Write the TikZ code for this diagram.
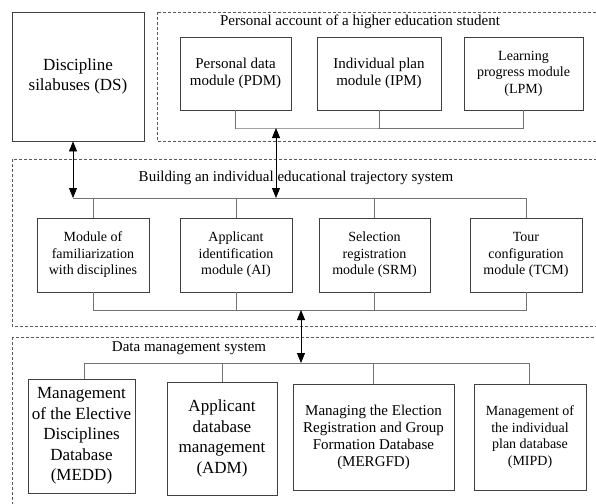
\documentclass[tikz,border=0pt]{standalone}
\usepackage{fontspec}
\setmainfont{Liberation Serif}
\usetikzlibrary{arrows.meta}
\begin{document}
\begin{tikzpicture}[x=1pt,y=-1pt,
 box/.style={draw=black!75, line width=0.8pt, align=center, inner sep=2pt, anchor=center},
 fA/.style={font=\fontsize{14}{16.5}\selectfont},
 fB/.style={font=\fontsize{15}{17}\selectfont},
 fC/.style={font=\fontsize{17}{20.5}\selectfont},
 grp/.style={draw=black!65, line width=0.6pt, dash pattern=on 3pt off 2pt},
 bus/.style={draw=black!55, line width=0.8pt},
 dbl/.style={{Triangle[width=8pt,length=10pt]}-{Triangle[width=8pt,length=10pt]}, line width=0.8pt, draw=black},
 ttl/.style={font=\fontsize{15}{17}\selectfont, inner sep=0pt, anchor=center}
]
\useasboundingbox (0,0) rectangle (596,503);
\clip (0,0) rectangle (596,503);
\fill[white] (0,0) rectangle (596,503);

% group frames
\draw[grp] (157,12) rectangle (610,141);
\draw[grp] (12,159) rectangle (610,326);
\draw[grp] (12,337) rectangle (610,520);

\node[ttl] (tP) at (360,22) {Personal account of a higher education student};
\node[ttl] (tB) at (296,178) {Building an individual educational trajectory system};
\node[ttl] (tD) at (189,348) {Data management system};

% top
\node[box, fC, minimum width=132pt, minimum height=129pt] (DS) at (78,76.5) {Discipline\\silabuses (DS)};
\node[box, fB, minimum width=111pt, minimum height=73pt] (PDM) at (235.5,73.5) {Personal data\\module (PDM)};
\node[box, fB, minimum width=124pt, minimum height=73pt] (IPM) at (379,73.5) {Individual plan\\module (IPM)};
\node[box, fA, minimum width=119pt, minimum height=73pt] (LPM) at (523.5,73.5) {Learning\\progress module\\(LPM)};

% middle
\node[box, fA, minimum width=112pt, minimum height=74pt] (MF) at (93,255) {Module of\\familiarization\\with disciplines};
\node[box, fA, minimum width=112pt, minimum height=74pt] (AI) at (236,255) {Applicant\\identification\\module (AI)};
\node[box, fA, minimum width=111pt, minimum height=74pt] (SRM) at (374.5,255) {Selection\\registration\\module (SRM)};
\node[box, fA, minimum width=112pt, minimum height=74pt] (TCM) at (526,255) {Tour\\configuration\\module (TCM)};

% bottom
\node[box, fC, minimum width=107pt, minimum height=114pt] (MEDD) at (81.5,436) {Management\\of the Elective\\Disciplines\\Database\\(MEDD)};
\node[box, fC, minimum width=110pt, minimum height=113pt] (ADM) at (222,438.5) {Applicant\\database\\management\\(ADM)};
\node[box, fB, minimum width=161pt, minimum height=106pt] (MER) at (373.5,437) {Managing the Election\\Registration and Group\\Formation Database\\(MERGFD)};
\node[box, fA, minimum width=112pt, minimum height=106pt] (MIPD) at (530,437) {Management of\\the individual\\plan database\\(MIPD)};

% buses
\coordinate (pL) at (236,128);
\coordinate (pA) at (276,128);
\coordinate (bL) at (73,198);
\coordinate (cL) at (93,310);
\coordinate (cA) at (301,310);
\coordinate (dL) at (84,363);
\coordinate (dR) at (529,363);

\draw[bus] (PDM.south) |- (pL) -- (pL -| LPM.south) -- (LPM.south);
\draw[bus] (IPM.south) -- (IPM.south |- pL);

\draw[bus] (bL) -- (bL -| TCM.north) -- (TCM.north);
\draw[bus] (MF.north) -- (MF.north |- bL);
\draw[bus] (AI.north) -- (AI.north |- bL);
\draw[bus] (SRM.north) -- (SRM.north |- bL);

\draw[bus] (MF.south) -- (cL) -- (cL -| TCM.south) -- (TCM.south);
\draw[bus] (AI.south) -- (AI.south |- cL);
\draw[bus] (SRM.south) -- (SRM.south |- cL);

\draw[bus] (dL |- MEDD.north) -- (dL) -- (dR) -- (dR |- MIPD.north);
\draw[bus] (ADM.north) -- (ADM.north |- dL);
\draw[bus] (MER.north) -- (MER.north |- dL);

% arrows
\draw[dbl] (DS.south -| bL) -- (bL);
\draw[dbl] (pA) -- (pA |- bL);
\draw[dbl] (cA) -- (cA |- dL);
\end{tikzpicture}
\end{document}
